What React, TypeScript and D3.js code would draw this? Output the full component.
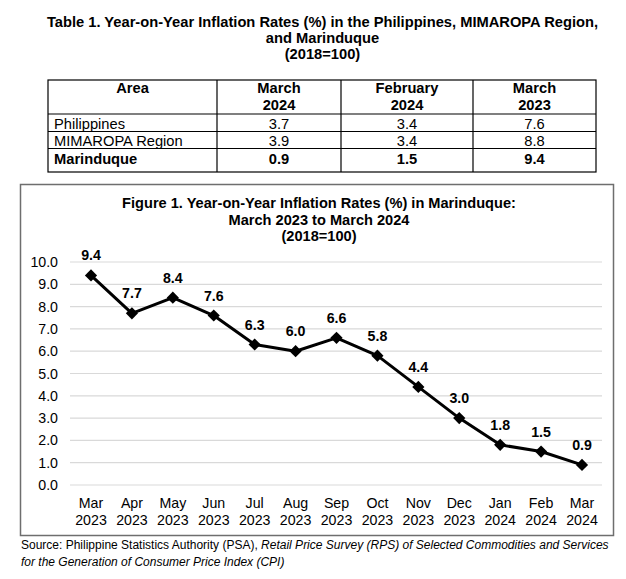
import React from "react";
import * as d3 from "d3";

const months = ["Mar", "Apr", "May", "Jun", "Jul", "Aug", "Sep", "Oct", "Nov", "Dec", "Jan", "Feb", "Mar"];
const years = ["2023", "2023", "2023", "2023", "2023", "2023", "2023", "2023", "2023", "2023", "2024", "2024", "2024"];
const inflation = [9.4, 7.7, 8.4, 7.6, 6.3, 6.0, 6.6, 5.8, 4.4, 3.0, 1.8, 1.5, 0.9];
const yTicks = [0, 1, 2, 3, 4, 5, 6, 7, 8, 9, 10];

const tableHeaders = [["Area"], ["March", "2024"], ["February", "2024"], ["March", "2023"]];
const tableAreas = ["Philippines", "MIMAROPA Region", "Marinduque"];
const tableMar2024 = [3.7, 3.9, 0.9];
const tableFeb2024 = [3.4, 3.4, 1.5];
const tableMar2023 = [7.6, 8.8, 9.4];

const FONT = "'Liberation Sans', Arial, sans-serif";

export default function App() {
  const W = 626, H = 579;
  const colX = [48, 217, 341, 473, 596];
  const rowY = [80, 114, 131.5, 148.5, 172];
  const rowBase = [129, 146, 163.5];

  const x = d3.scalePoint<number>().domain(d3.range(inflation.length)).range([91, 582]);
  const y = d3.scaleLinear().domain([0, 10]).range([485, 262]);
  const line = d3.line<number>().x((_, i) => x(i)!).y((d) => y(d));
  const diamond = d3.symbol().type(d3.symbolDiamond2).size(95)();

  const rows = tableAreas.map((a, i) => [a, tableMar2024[i].toFixed(1), tableFeb2024[i].toFixed(1), tableMar2023[i].toFixed(1)]);

  return (
    <svg width={W} height={H} style={{ position: "absolute", left: 0, top: 0, background: "#fff" }} fontFamily={FONT}>
      <g fontWeight="bold" fontSize={14.7} textAnchor="middle" fill="#000">
        <text x={322.5} y={26.5}>Table 1. Year-on-Year Inflation Rates (%) in the Philippines, MIMAROPA Region,</text>
        <text x={322.5} y={43.3}>and Marinduque</text>
        <text x={322.5} y={58.5}>(2018=100)</text>
      </g>
      <g stroke="#000" strokeWidth={1.2} fill="none">
        <rect x={colX[0]} y={rowY[0]} width={colX[4] - colX[0]} height={rowY[4] - rowY[0]} />
        {colX.slice(1, 4).map((cx) => (
          <line key={cx} x1={cx} x2={cx} y1={rowY[0]} y2={rowY[4]} />
        ))}
        {rowY.slice(1, 4).map((ry) => (
          <line key={ry} x1={colX[0]} x2={colX[4]} y1={ry} y2={ry} />
        ))}
      </g>
      <g fontSize={14.7} fill="#000">
        {tableHeaders.map((h, i) => (
          <text key={i} x={(colX[i] + colX[i + 1]) / 2} y={93.3} textAnchor="middle" fontWeight="bold">
            {h.map((t, j) => (
              <tspan key={j} x={(colX[i] + colX[i + 1]) / 2} dy={j === 0 ? 0 : 16.7}>{t}</tspan>
            ))}
          </text>
        ))}
        {rows.map((r, ri) => (
          <g key={ri} fontWeight={ri === 2 ? "bold" : "normal"}>
            {r.map((c, ci) => (
              <text key={ci} x={ci === 0 ? colX[0] + 6 : (colX[ci] + colX[ci + 1]) / 2}
                y={rowBase[ri]}
                textAnchor={ci === 0 ? "start" : "middle"}>{c}</text>
            ))}
          </g>
        ))}
      </g>

      <rect x={20.5} y={184.5} width={593} height={351} fill="none" stroke="#6e6e6e" strokeWidth={1.5} />
      <g fontWeight="bold" fontSize={14.6} textAnchor="middle" fill="#000">
        <text x={319} y={208.3}>Figure 1. Year-on-Year Inflation Rates (%) in Marinduque:</text>
        <text x={319} y={224.5}>March 2023 to March 2024</text>
        <text x={319} y={240.5}>(2018=100)</text>
      </g>
      <g>
        {yTicks.map((t) => (
          <g key={t}>
            <line x1={70} x2={602} y1={y(t)} y2={y(t)} stroke="#d9d9d9" strokeWidth={1.2} />
            <text x={58} y={y(t) + 5} textAnchor="end" fontSize={14.2} fill="#000">{t.toFixed(1)}</text>
          </g>
        ))}
      </g>
      <g fontSize={14.2} textAnchor="middle" fill="#000">
        {months.map((m, i) => (
          <text key={i} x={x(i)} y={508.3}>
            <tspan x={x(i)}>{m}</tspan>
            <tspan x={x(i)} dy={16.7}>{years[i]}</tspan>
          </text>
        ))}
      </g>
      <path d={line(inflation) || ""} fill="none" stroke="#000" strokeWidth={3} strokeLinejoin="round" />
      {inflation.map((v, i) => (
        <path key={i} d={diamond || ""} transform={`translate(${x(i)},${y(v)})`} fill="#000" />
      ))}
      <g fontSize={14.2} fontWeight="bold" textAnchor="middle" fill="#000">
        {inflation.map((v, i) => (
          <text key={i} x={x(i)} y={y(v) - 15}>{v.toFixed(1)}</text>
        ))}
      </g>

      <g fontSize={12} fill="#000">
        <text x={21} y={549}>Source: Philippine Statistics Authority (PSA), <tspan fontStyle="italic">Retail Price Survey (RPS) of Selected Commodities and Services</tspan></text>
        <text x={21} y={566} fontStyle="italic">for the Generation of Consumer Price Index (CPI)</text>
      </g>
    </svg>
  );
}
